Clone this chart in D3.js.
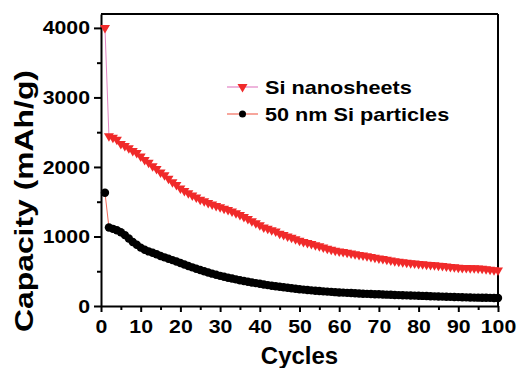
<!DOCTYPE html>
<html><head><meta charset="utf-8">
<script src="https://cdn.jsdelivr.net/npm/d3@7"></script>
<style>body{margin:0;background:#fff}svg{display:block}text{font-family:"Liberation Sans",Arial,sans-serif;font-weight:bold;fill:#000}</style>
</head><body><svg id="c" width="517" height="368"></svg>
<script>
const cycles = d3.range(1, 101);
const nanosheets = [4000,2440,2420,2390,2330,2300,2270,2230,2200,2150,
2100,2060,2010,1970,1920,1880,1830,1780,1740,1690,
1655,1620,1590,1560,1530,1505,1480,1460,1440,1420,
1400,1380,1360,1335,1310,1280,1250,1220,1190,1160,
1130,1110,1090,1070,1040,1020,1000,980,960,940,
920,905,890,875,860,840,825,810,795,785,
775,765,755,745,735,725,715,705,695,685,
675,665,655,645,635,628,622,616,610,604,
600,595,590,585,580,575,568,562,556,550,
548,546,544,542,540,535,528,522,515,510];
const particles = [1630,1130,1110,1090,1060,1020,970,920,880,840,
810,785,765,745,720,700,680,660,640,618,
597,576,556,536,517,499,482,465,449,434,
420,407,395,383,371,360,349,339,329,319,
309,300,292,284,276,269,262,255,248,242,
236,230,225,220,215,211,207,203,199,195,
192,189,186,183,180,177,175,172,170,168,
165,163,161,159,157,155,153,151,149,147,
145,143,141,139,137,135,133,131,130,128,
126,124,122,121,120,119,118,117,116,115];
const seriesNames = ["Si nanosheets", "50 nm Si particles"];
const xTicks = [0,10,20,30,40,50,60,70,80,90,100];
const xMinor = [5,15,25,35,45,55,65,75,85,95];
const yTicks = [0,1000,2000,3000,4000];
const yMinor = [500,1500,2500,3500];

const svg = d3.select("#c");
const L = 101, R = 498, T = 14, B = 306;
const x = d3.scaleLinear().domain([0,100]).range([L,R]);
const y = d3.scaleLinear().domain([0,4200]).range([B,T]);

function stretch(sel, f){ sel.each(function(){ const w=this.getComputedTextLength(); this.setAttribute("textLength", w*f); this.setAttribute("lengthAdjust","spacingAndGlyphs"); }); }

// box top/right
svg.append("line").attr("x1",L).attr("x2",R).attr("y1",T).attr("y2",T).attr("stroke","#000").attr("stroke-width",2);
svg.append("line").attr("x1",R).attr("x2",R).attr("y1",T).attr("y2",B).attr("stroke","#000").attr("stroke-width",2);

// axes
const gx = svg.append("g").attr("transform",`translate(0,${B})`)
  .call(d3.axisBottom(x).tickValues(xTicks).tickFormat(d3.format("d")).tickSize(6).tickSizeOuter(0).tickPadding(8));
const gxm = svg.append("g").attr("transform",`translate(0,${B})`)
  .call(d3.axisBottom(x).tickValues(xMinor).tickSize(4).tickFormat(""));
const gy = svg.append("g").attr("transform",`translate(${L},0)`)
  .call(d3.axisLeft(y).tickValues(yTicks).tickFormat(d3.format("d")).tickSize(7).tickSizeOuter(0).tickPadding(4));
const gym = svg.append("g").attr("transform",`translate(${L},0)`)
  .call(d3.axisLeft(y).tickValues(yMinor).tickSize(4).tickFormat(""));
[gx,gxm,gy,gym].forEach(g=>{
  g.select(".domain").attr("stroke","#000").attr("stroke-width",2);
  g.selectAll(".tick line").attr("stroke","#000").attr("stroke-width",2);
  g.selectAll("text").style("font-size","19px").attr("fill","#000");
});
gxm.select(".domain").remove(); gym.select(".domain").remove();
stretch(gx.selectAll(".tick text"),1.12);
stretch(gy.selectAll(".tick text"),1.12);

// axis titles
svg.append("text").attr("x",(L+R)/2).attr("y",364).attr("text-anchor","middle").style("font-size","24px").text("Cycles");
svg.append("text").attr("transform","translate(33,201) rotate(-90)").attr("text-anchor","middle")
  .style("font-size","25px").attr("textLength",262).attr("lengthAdjust","spacingAndGlyphs").text("Capacity (mAh/g)");

// series
const line = d3.line().x((d,i)=>x(cycles[i])).y(d=>y(d));
const tri = "M-5,-3 L5,-3 L0,5.5 Z";
const red = "#f02a2a";
svg.append("path").datum(nanosheets).attr("d",line).attr("fill","none").attr("stroke","#e384c4").attr("stroke-width",1);
svg.append("g").selectAll("path").data(nanosheets).join("path")
  .attr("d",tri).attr("transform",(d,i)=>`translate(${x(cycles[i])},${y(d)})`).attr("fill",red);
svg.append("path").datum(particles).attr("d",line).attr("fill","none").attr("stroke","#f26a5a").attr("stroke-width",1);
svg.append("g").selectAll("circle").data(particles).join("circle")
  .attr("cx",(d,i)=>x(cycles[i])).attr("cy",d=>y(d)).attr("r",4.2).attr("fill","#000");

// legend
const lg = svg.append("g");
const rows = [{y:87, line:"#e384c4"},{y:114, line:"#f26a5a"}];
rows.forEach((r,i)=>{
  lg.append("line").attr("x1",227).attr("x2",258).attr("y1",r.y).attr("y2",r.y).attr("stroke",r.line).attr("stroke-width",1.2);
  if(i===0) lg.append("path").attr("d",tri).attr("transform",`translate(242.5,${r.y})`).attr("fill",red);
  else lg.append("circle").attr("cx",242.5).attr("cy",r.y).attr("r",3.5).attr("fill","#000");
  const t = lg.append("text").attr("x",265).attr("y",r.y+6.5).style("font-size","19px").text(seriesNames[i]);
  stretch(t,1.14);
});
</script></body></html>
